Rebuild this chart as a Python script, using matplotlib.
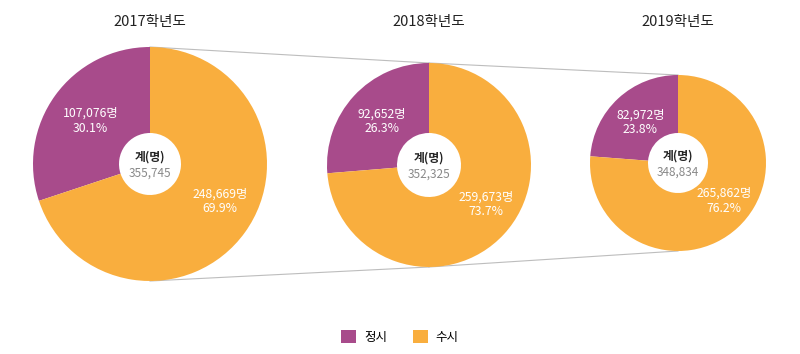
import numpy as np
import matplotlib.pyplot as plt
from matplotlib.patches import Patch

plt.rcParams['font.family'] = ['Noto Sans CJK KR', 'DejaVu Sans']

# data
years = ['2017학년도', '2018학년도', '2019학년도']
jeongsi = [107076, 92652, 82972]      # 정시
susi = [248669, 259673, 265862]       # 수시
jeongsi_pct = [30.1, 26.3, 23.8]
susi_pct = [69.9, 73.7, 76.2]
totals = [355745, 352325, 348834]
categories = ['정시', '수시']

purple = '#A84B8B'
orange = '#F9AE3E'

# layout (pixel units, y up)
centers = [(150, 190), (429, 189), (678, 191)]
radii = [117, 102, 88]
holes = [31, 32, 30]

fig = plt.figure(figsize=(8, 3.54), dpi=100)
ax = fig.add_axes([0, 0, 1, 1])

# connector lines between the top and bottom of each pie
for i in range(len(centers) - 1):
    (x0, y0), r0 = centers[i], radii[i]
    (x1, y1), r1 = centers[i + 1], radii[i + 1]
    ax.plot([x0, x1], [y0 + r0, y1 + r1], color='#BDBDBD', lw=0.8, zorder=0)
    ax.plot([x0, x1], [y0 - r0, y1 - r1], color='#BDBDBD', lw=0.8, zorder=0)

for i in range(len(years)):
    cx, cy = centers[i]
    r = radii[i]
    vals = [jeongsi[i], susi[i]]
    ax.pie(vals, colors=[purple, orange], startangle=90, counterclock=True,
           center=(cx, cy), radius=r,
           wedgeprops=dict(width=r - holes[i], edgecolor='none', linewidth=0))

    # labels at wedge mid angles
    frac = jeongsi[i] / (jeongsi[i] + susi[i])
    a1 = np.deg2rad(90 + 180 * frac)
    a2 = np.deg2rad(90 + 360 * frac + 180 * (1 - frac) + 8)
    lx, ly = cx + 0.63 * r * np.cos(a1), cy + 0.63 * r * np.sin(a1)
    ax.text(lx, ly, f'{jeongsi[i]:,}명\n{jeongsi_pct[i]}%', color='white',
            fontsize=8.8, fontweight='medium', ha='center', va='center',
            linespacing=1.15)
    lx, ly = cx + 0.68 * r * np.cos(a2), cy + 0.68 * r * np.sin(a2)
    ax.text(lx, ly, f'{susi[i]:,}명\n{susi_pct[i]}%', color='white',
            fontsize=8.8, fontweight='medium', ha='center', va='center',
            linespacing=1.15)

    ax.text(cx, cy + 7, '계(명)', color='#222222', fontsize=8.5,
            fontweight='bold', ha='center', va='center')
    ax.text(cx, cy - 9, f'{totals[i]:,}', color='#888888', fontsize=8.5,
            ha='center', va='center')
    ax.text(cx, 332, years[i], color='#222222', fontsize=10.5,
            fontweight='medium', ha='center', va='center')

ax.set_xlim(0, 800)
ax.set_ylim(0, 354)
ax.set_aspect('equal')
ax.axis('off')

handles = [Patch(facecolor=purple, edgecolor='none'),
           Patch(facecolor=orange, edgecolor='none')]
fig.legend(handles, categories, loc='center', bbox_to_anchor=(0.5, 1 - 337 / 354),
           ncol=2, frameon=False, handlelength=1.2, handleheight=1.2,
           columnspacing=2.1, handletextpad=0.6, fontsize=9)

fig.savefig('out.png', dpi=100, facecolor='white')
